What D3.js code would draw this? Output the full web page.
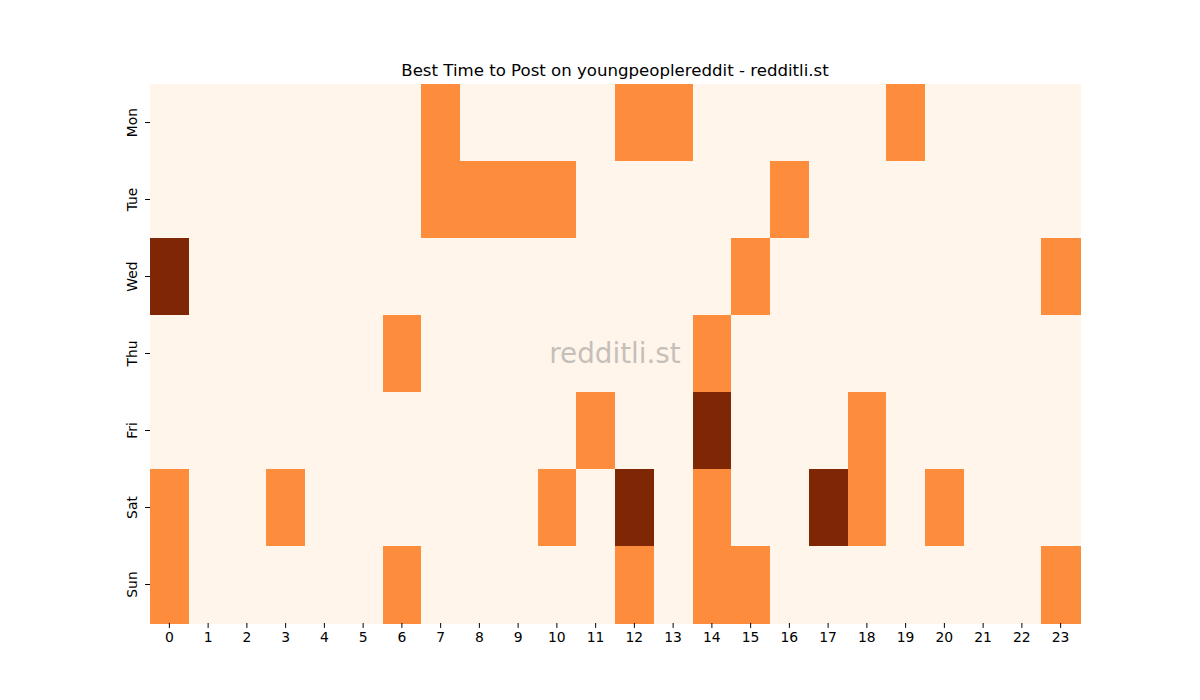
<!DOCTYPE html>
<html>
<head>
<meta charset="utf-8">
<script src="https://cdn.jsdelivr.net/npm/d3@7"></script>
<style>
  body { margin: 0; background: #fff; }
  text { font-family: "DejaVu Sans", sans-serif; fill: #000; }
</style>
</head>
<body>
<div id="chart"></div>
<script>
// days and hours
const days = ["Mon", "Tue", "Wed", "Thu", "Fri", "Sat", "Sun"];
const hours = d3.range(24);

// 0 = quiet, 1 = good, 2 = best
const monVals = [0,0,0,0,0,0,0,1,0,0,0,0,1,1,0,0,0,0,0,1,0,0,0,0];
const tueVals = [0,0,0,0,0,0,0,1,1,1,1,0,0,0,0,0,1,0,0,0,0,0,0,0];
const wedVals = [2,0,0,0,0,0,0,0,0,0,0,0,0,0,0,1,0,0,0,0,0,0,0,1];
const thuVals = [0,0,0,0,0,0,1,0,0,0,0,0,0,0,1,0,0,0,0,0,0,0,0,0];
const friVals = [0,0,0,0,0,0,0,0,0,0,0,1,0,0,2,0,0,0,1,0,0,0,0,0];
const satVals = [1,0,0,1,0,0,0,0,0,0,1,0,2,0,1,0,0,2,1,0,1,0,0,0];
const sunVals = [1,0,0,0,0,0,1,0,0,0,0,0,1,0,1,1,0,0,0,0,0,0,0,1];

const rows = [monVals, tueVals, wedVals, thuVals, friVals, satVals, sunVals];

const cells = [];
rows.forEach((r, i) => {
  r.forEach((v, h) => cells.push({ day: days[i], hour: h, value: v }));
});

const width = 1200, height = 700;
const margin = { top: 84, right: 120, bottom: 77, left: 150 };

const svg = d3.select("#chart").append("svg")
  .attr("width", width)
  .attr("height", height);

const x = d3.scaleBand().domain(hours).range([margin.left, width - margin.right]);
const y = d3.scaleBand().domain(days).range([margin.top, height - margin.bottom]);

const color = d3.scaleOrdinal()
  .domain([0, 1, 2])
  .range(["#fff5eb", "#fd8d3c", "#7f2704"]);

svg.append("g")
  .selectAll("rect").data(cells)
  .enter().append("rect")
    .attr("x", d => x(d.hour))
    .attr("y", d => y(d.day))
    .attr("width", x.bandwidth() + 0.5)
    .attr("height", y.bandwidth() + 0.5)
    .attr("fill", d => color(d.value))
    .attr("shape-rendering", "crispEdges");

// axes
const xAxis = svg.append("g")
  .attr("transform", `translate(0,${height - margin.bottom})`)
  .call(d3.axisBottom(x).tickSize(4.9).tickPadding(4));
xAxis.select(".domain").remove();
xAxis.selectAll("text").style("font-size", "13.9px").style("font-family", "DejaVu Sans");

const yAxis = svg.append("g")
  .attr("transform", `translate(${margin.left},0)`)
  .call(d3.axisLeft(y).tickSize(4.9).tickPadding(4));
yAxis.select(".domain").remove();
yAxis.selectAll("text")
  .style("font-size", "13.9px")
  .style("font-family", "DejaVu Sans")
  .attr("transform", "rotate(-90)")
  .attr("x", 0)
  .attr("dy", 0)
  .attr("y", -13)
  .attr("text-anchor", "middle");

// title
svg.append("text")
  .attr("x", (margin.left + width - margin.right) / 2)
  .attr("y", 76)
  .attr("text-anchor", "middle")
  .style("font-size", "16.6px")
  .text("Best Time to Post on youngpeoplereddit - redditli.st");

// watermark
svg.append("text")
  .attr("x", (margin.left + width - margin.right) / 2)
  .attr("y", y("Thu") + y.bandwidth() / 2 + 9)
  .attr("text-anchor", "middle")
  .style("font-size", "27.8px")
  .style("fill", "#808080")
  .style("opacity", 0.45)
  .text("redditli.st");
</script>
</body>
</html>
